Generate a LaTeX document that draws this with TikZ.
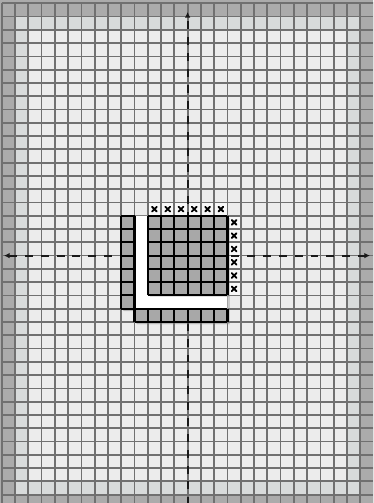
\documentclass[tikz,border=0pt]{standalone}
\usetikzlibrary{arrows.meta,shadows}
\definecolor{outerc}{RGB}{171,171,171}
\definecolor{ringc}{RGB}{216,219,219}
\definecolor{innerc}{RGB}{236,236,236}
\definecolor{linec}{RGB}{112,112,112}
\definecolor{blockc}{RGB}{168,168,168}
\definecolor{markcell}{RGB}{248,248,248}
\definecolor{axisc}{RGB}{25,25,25}
\tikzset{
  gridline/.style={draw=linec, line width=3.8pt},
  blockline/.style={draw=black, line width=4.5pt},
  piece/.style={fill=blockc, drop shadow={shadow xshift=4pt, shadow yshift=-4pt, opacity=.25}},
  axisline/.style={draw=axisc, line width=4.4pt, dash pattern=on 17pt off 17pt},
  tipstyle/.style={-{Latex[length=12pt,width=12pt]}},
  xmark/.style={draw=black, line width=4pt, line cap=round},
}
\begin{document}
\begin{tikzpicture}[x=1cm,y=1cm]
\useasboundingbox (-0.13,0.37) rectangle (27.96,38.25);
\clip (-0.13,0.37) rectangle (27.96,38.25);
% background rings
\fill[outerc] (-1,-1) rectangle (29,39);
\fill[ringc] (1,1) rectangle (27,37);
\fill[innerc] (2,2) rectangle (26,36);
% cells holding marks
\fill[markcell] (11,22) rectangle (17,23);
\fill[markcell] (17,16) rectangle (18,22);
% grid
\draw[gridline] (0,0) grid (28,38);
% axes
\coordinate (vbot) at (14,0.2);
\coordinate (vtop) at (14,37.35);
\coordinate (hleft) at (0.17,19);
\coordinate (hright) at (27.73,19);
\draw[axisline, tipstyle] (vbot) -- (vtop);
\draw[axisline, {Latex[length=12pt,width=12pt]}-{Latex[length=12pt,width=12pt]}] (hleft) -- (hright);
% white L region with shadow
\fill[white, drop shadow={shadow xshift=5pt, shadow yshift=-5pt, opacity=.3}]
  (9,15) -- (9,22) -- (17,22) -- (17,14) -- (10,14) -- (10,15) -- cycle;
% pieces
\path[piece] (9,15) rectangle (10,22);
\draw[blockline] (9,15) grid (10,22);
\path[piece] (10,14) rectangle (17,15);
\draw[blockline] (10,14) grid (17,15);
\path[piece] (11,16) rectangle (17,22);
\draw[blockline] (11,16) grid (17,22);
% marks
\foreach \i in {11,...,16} {
  \draw[xmark] (\i+0.32,22.32) -- (\i+0.68,22.68) (\i+0.32,22.68) -- (\i+0.68,22.32);
}
\foreach \j in {16,...,21} {
  \draw[xmark] (17.32,\j+0.32) -- (17.68,\j+0.68) (17.32,\j+0.68) -- (17.68,\j+0.32);
}
\end{tikzpicture}
\end{document}
